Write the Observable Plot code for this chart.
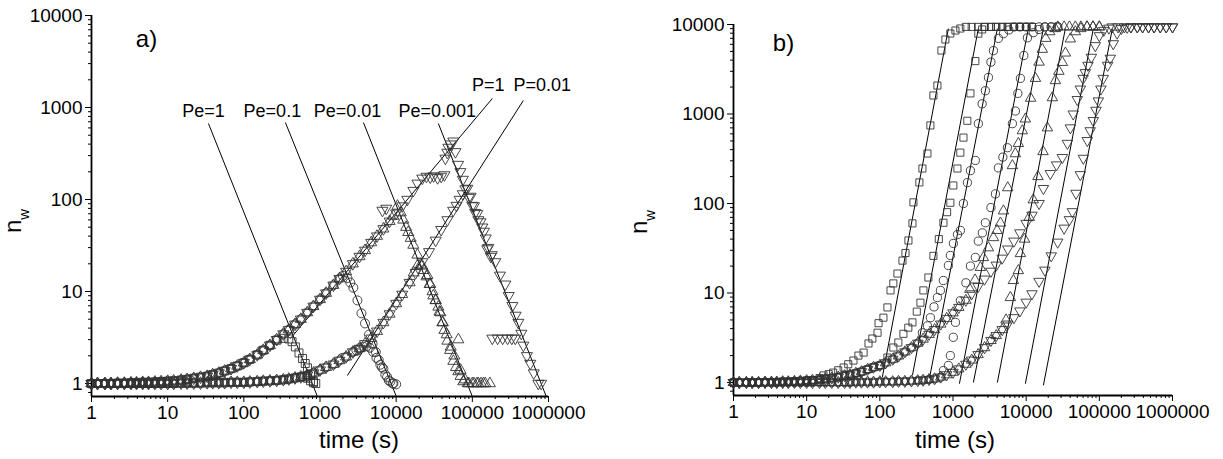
<!DOCTYPE html>
<html><head><meta charset="utf-8">
<script src="https://cdn.jsdelivr.net/npm/d3@7"></script>
<script src="https://cdn.jsdelivr.net/npm/@observablehq/plot@0.6"></script>
<style>
body{margin:0;background:#fff;}
#wrap{display:flex;width:1223px;height:459px;overflow:hidden;}
</style></head><body><div id="wrap"></div>
<script>
// ---------- shared time grid (s) ----------
const tGrid = [1,1.2,1.5,1.8,2.2,2.7,3.3,3.9,4.7,5.6,6.8,8.2,
 10,12,15,18,22,27,33,39,47,56,68,82,
 100,120,150,180,220,270,330,390,470,560,680,820,
 1000,1200,1500,1800,2200,2700,3300,3900,4700,5600,6800,8200,
 10000,12000,15000,18000,22000,27000,33000,39000,47000,56000,68000,82000,
 100000,120000,150000,180000,220000,270000,330000,390000,470000,560000,680000,820000,1000000];

// ---------- panel a ----------
const nBaseA1 = [1.0,1.0,1.0,1.0,1.01,1.01,1.02,1.02,1.03,1.03,1.04,1.05,
 1.06,1.07,1.09,1.11,1.14,1.17,1.2,1.25,1.3,1.37,1.45,1.55,
 1.68,1.83,2.05,2.3,2.6,3.0,3.45,3.85,4.4,5.0,5.9,6.9,
 8.2,9.6,11.7,13.8,16.5,20,24,28,34,40,48,58,
 71,85,105,126,153,188,228,270,325,385];
const nBaseA2 = [1,1,1,1,1,1,1,1,1,1,1,1,
 1,1,1.01,1.01,1.01,1.01,1.02,1.02,1.02,1.02,1.03,1.03,
 1.03,1.04,1.05,1.06,1.07,1.08,1.1,1.12,1.15,1.18,1.23,1.3,
 1.4,1.5,1.62,1.78,1.95,2.2,2.4,2.7,3.1,3.7,4.6,5.7,
 7.4,9.3,12.5,16,21,27,36,47,60,76,98];

const tailSqA1 = [[220,2.6],[270,2.95],[330,3.1],[390,3.05],[430,2.85],[475,2.5],[530,2.15],[590,1.87],[640,1.65],[685,1.48],[750,1.25],[820,1.05]];
const tailSqA2 = [[630,1.18],[685,1.14],[750,1.07],[820,1.02],[880,1.0]];
const tailCiA1 = [[2000,14.8],[2290,14.0],[2500,12.5],[2740,11],[3100,8],[3500,5.8],[3900,4.5],[4400,3.4],[4900,2.7],[5400,2.2],[5900,1.8],[6500,1.5],[7200,1.25],[8000,1.08],[9000,1.0],[10000,0.98]];
const tailCiA2 = [[3000,2.3],[3300,2.42],[3720,2.5],[4100,2.55],[4500,2.45],[5000,2.2],[5500,1.9],[6200,1.6],[6800,1.45],[7600,1.18],[8400,1.05],[9200,1.0]];
const tailTuA1 = [[9200,66],[10400,85],[11500,72],[12400,60],[13500,50],[14400,44],[15500,38],[16800,32],[19000,25],[22000,19],[25700,15],[28000,12],[30700,9],[33000,8],[35800,6.8],[38000,5.9],[40400,4.6],[43000,3.8],[47000,2.9],[51000,2.3],[56300,1.75],[61000,1.5],[65500,1.35],[70000,1.2],[76000,1.05],[87000,1.0],[100000,1.0],[115000,1.0],[130000,1.0],[148000,1.0]];
const tailTuA2 = [[17000,16],[19000,19],[21000,19.5],[23000,17],[25000,14.5],[27500,12],[30000,10],[33000,8],[37000,6],[41000,4.6],[46000,3.4],[52000,2.5],[58000,2.0],[65500,3.0],[70000,1.4],[80000,1.1],[90000,1.0],[105000,1.0],[120000,1.0],[140000,1.0],[170000,1.0]];
const tailTdA1 = [[6600,76],[7400,80],[14000,100],[16800,125],[19000,150],[22000,170],[25000,178],[28000,175],[31000,180],[35000,172],[39000,178],[43000,185],[44300,280],[47000,325],[48400,368],[52000,400],[56300,430],[60000,330],[65000,240],[69700,200],[75000,165],[81000,130],[90000,105],[100000,86],[109000,72],[120000,60],[135000,50],[150000,38],[162000,30],[180000,25],[200000,21],[230000,15],[271000,12],[300000,9],[335000,7],[370000,5.5],[402000,4.6],[440000,3.5],[467000,2.6],[520000,2.0],[577000,1.65],[640000,1.3],[735000,1.0],[800000,1.0]];
const tailTdA2 = [[62000,86],[68000,100],[75000,115],[86000,132],[95000,108],[105000,85],[116000,70],[128000,57],[142000,45],[157000,29],[175000,24],[183000,3.1],[215000,3.1],[250000,3.1],[290000,3.1],[330000,3.1],[366000,3.1]];

const lineNamesA = ["Pe=1","Pe=0.1","Pe=0.01","Pe=0.001","P=1","P=0.01"];
const lineT1A = [34.3, 351, 3715, 35800, 409, 2290];
const lineN1A = [670, 687, 687, 670, 3.08, 1.22];
const lineT2A = [925, 10060, 100000, 935000, 183000, 467000];
const lineN2A = [0.722, 0.722, 0.722, 0.722, 1253, 1190];
const labelTA = [29.5, 237, 2290, 34700, 162000, 830000];
const labelNA = [905, 905, 905, 905, 1735, 1735];

// ---------- panel b ----------
const nBaseB1 = [1,1,1,1,1,1.01,1.01,1.01,1.02,1.02,1.03,1.04,
 1.05,1.06,1.08,1.1,1.12,1.15,1.19,1.22,1.27,1.32,1.4,1.48,
 1.55,1.66,1.82,1.98,2.2,2.45,2.75,3.05,3.45,3.9,4.5,5.2,
 6.0,6.9,8.3,9.8,11.8,14.3,17.5,20.5,24.5,31,38,47,
 60,74,100];
const nBaseB2 = [1,1,1,1,1,1,1,1,1,1,1,1,
 1,1,1,1,1,1,1,1,1.01,1.01,1.01,1.01,
 1.02,1.02,1.02,1.03,1.03,1.04,1.05,1.06,1.08,1.1,1.15,1.22,
 1.3,1.42,1.6,1.78,2.05,2.45,2.95,3.35,3.9,4.5,5.3,6.3,
 7.9,9.8,13.5,18,26,37,53,66];
const plateauB = [[1500,9400],[1800,9400],[2200,9400],[2700,9400],[3300,9400],[3900,9400],[4700,9400],[5600,9400],[6800,9400],[8200,9400],[10000,9400],[12000,9400],[15000,9400],[18000,9400],[22000,9400],[27000,9400],[33000,9400],[39000,9400],[47000,9400],[56000,9400],[68000,9400],[82000,9400],[100000,9400],[120000,9400],[150000,9400],[180000,9400],[220000,9400],[270000,9400],[330000,9400],[390000,9400],[470000,9400],[560000,9400],[680000,9400],[820000,9400],[1000000,9400]];

const tailS1 = [[15,1.12],[17,1.2],[20,1.24],[23,1.29],[27,1.37],[32,1.47],[37,1.6],[43.6,1.76],[51,2.0],[60,2.16],[70,2.73],[79,3.1],[93,3.6],[96,4.6],[112,5.3],[127,6.9],[140,10.7],[153,12.8],[174,16.5],[204,23],[224,28],[246,38.6],[279,60],[288,103],[347,172],[382,246],[447,362],[491,745],[540,1610],[612,2080],[695,5120],[787,6800],[920,7930],[1080,8570],[1260,9020]];
const tailS2 = [[127,1.9],[153,2.46],[179,2.8],[210,3.5],[245,4.1],[279,4.7],[320,6.2],[359,7.8],[394,10.7],[461,14.9],[540,26],[640,40],[740,61],[830,80],[920,102],[1010,159],[1150,246],[1260,370],[1390,545],[1570,840],[1730,1700],[2020,3900],[2220,7900],[2500,8800]];
const tailC1 = [[382,3.6],[447,4.3],[491,5.3],[550,7],[612,8.9],[673,10.7],[739,13.8],[865,20.3],[921,26.3],[1012,35.8],[1150,45],[1262,50],[1387,100],[1573,171],[1730,233],[2020,303],[2220,780],[2500,1300],[2770,1820],[3050,2560],[3300,3800],[3570,5100],[4170,7000],[4890,7900],[5800,8700]];
const tailC2 = [[740,1.36],[865,1.55],[920,2.0],[1010,3.2],[1080,4.7],[1260,8.2],[1500,13],[1730,20],[2020,25],[2220,38],[2520,47],[2770,61],[3300,90],[3800,128],[4170,250],[4800,330],[5540,420],[6480,780],[7120,1080],[7700,1700],[8340,2500],[9300,4500],[10400,7100],[12500,8100],[15000,8800]];
const tailT1 = [[1700,11],[2000,14],[2370,19.3],[2600,24.9],[3050,32],[3570,41.6],[4000,50],[4450,60.5],[4890,82.7],[5600,150],[6480,265],[7100,360],[7820,468],[8870,650],[9750,880],[11500,1500],[13400,2500],[15000,3800],[16600,5280],[18500,7000],[21000,8300],[25000,9000]];
const tailT2 = [[5300,5],[6080,8.9],[6690,13.8],[7820,17.8],[8340,27.6],[9500,40],[11000,70],[12500,110],[14500,200],[17000,380],[19500,700],[22800,1520],[25100,2360],[28000,3000],[31200,3770],[34400,4800],[40200,6900],[47000,8300],[56000,9000]];
const tailD1 = [[17200,147],[21400,216],[26000,270],[31200,326],[36600,470],[40200,700],[44000,1000],[50000,1450],[55000,1900],[60000,2500],[64400,2900],[70000,3500],[77800,4300],[88000,5800],[100000,7500],[115000,8600],[135000,9100]];
const tailD2 = [[42800,81],[48000,130],[55000,210],[60400,320],[68500,505],[75000,650],[82800,845],[90000,1100],[96900,1400],[105000,1900],[113000,2500],[130000,3500],[141000,4200],[155000,6100],[175000,8000],[200000,9000],[240000,9300]];

const lineT1B = [108, 279, 476, 1223, 1900, 4040, 9750, 17200];
const lineN1B = [1.14, 1.2, 1.11, 0.97, 1.0, 1.0, 0.97, 0.93];
const lineT2B = [865, 2220, 4040, 10700, 17200, 34300, 82800, 150600];
const lineN2B = [9000, 9000, 9000, 9000, 9000, 9000, 9000, 9000];

// ---------- ticks ----------
const majorX = [1,10,100,1000,10000,100000,1000000];
const majorY = [1,10,100,1000,10000];
const decades = [0.1,1,10,100,1000,10000,100000];
const mult = [2,3,4,5,6,7,8,9];

// ---------- helpers ----------
const FONT = "'Liberation Sans', Arial, Helvetica, sans-serif";
const fromBase = (base, tMax) => base.map((n,i) => [tGrid[i], n]).filter(d => d[0] <= tMax);
const plat = (t0, t1) => plateauB.filter(d => d[0] > t0 && d[0] <= t1);
const triDown = {
  draw(context, size) {
    const y = -Math.sqrt(size / (Math.sqrt(3) * 3));
    context.moveTo(0, -y * 2);
    context.lineTo(-Math.sqrt(3) * y, y);
    context.lineTo(Math.sqrt(3) * y, y);
    context.closePath();
  }
};
const dots = (pts, symbol, r) => Plot.dot(pts, {x: d => d[0], y: d => d[1], symbol, r, stroke: "#333", fill: "none", strokeWidth: 0.9});

function axes(yMin) {
  const minorX = decades.slice(1, 7).flatMap(d => mult.map(m => m * d));
  const minorY = decades.flatMap(d => mult.map(m => m * d)).filter(v => v > yMin && v < 10000);
  return [
    Plot.axisX({ticks: majorX, tickFormat: d => String(d), tickSize: 6, tickPadding: 3, fontSize: 19, label: null}),
    Plot.axisX({ticks: minorX, tickFormat: () => "", tickSize: 3, label: null}),
    Plot.axisY({ticks: majorY, tickFormat: d => String(d), tickSize: 6, tickPadding: 3, fontSize: 19, label: null}),
    Plot.axisY({ticks: minorY, tickFormat: () => "", tickSize: 3, label: null}),
    Plot.ruleX([1], {strokeWidth: 1.8}),
    Plot.ruleY([yMin], {strokeWidth: 1.8})
  ];
}
function addNw(svg, x, y) {
  const t = d3.select(svg).append("text")
    .attr("transform", `translate(${x},${y}) rotate(-90)`)
    .attr("font-family", FONT).attr("fill", "black");
  t.append("tspan").attr("font-size", 24).text("n");
  t.append("tspan").attr("font-size", 15).attr("dy", 8).text("w");
}

// ---------- panel a ----------
const yMinA = 0.7224;
const idxA = d3.range(lineNamesA.length);
const svgA = Plot.plot({
  width: 612, height: 459,
  marginLeft: 91, marginRight: 64, marginTop: 15, marginBottom: 63,
  x: {type: "log", domain: [1, 1e6], label: null},
  y: {type: "log", domain: [yMinA, 10000], label: null},
  style: {fontFamily: FONT, background: "white", color: "black", overflow: "visible"},
  marks: [
    ...axes(yMinA),
    Plot.link(idxA, {x1: i => lineT1A[i], y1: i => lineN1A[i], x2: i => lineT2A[i], y2: i => lineN2A[i], stroke: "black", strokeWidth: 1}),
    dots(fromBase(nBaseA2, 56000).concat(tailTdA2), triDown, 4.1),
    dots(fromBase(nBaseA1, 12000).concat(tailTdA1), triDown, 4.1),
    dots(fromBase(nBaseA2, 15000).concat(tailTuA2), "triangle", 4.1),
    dots(fromBase(nBaseA1, 8200).concat(tailTuA1), "triangle", 4.1),
    dots(fromBase(nBaseA2, 2700).concat(tailCiA2), "circle", 4.5),
    dots(fromBase(nBaseA1, 1800).concat(tailCiA1), "circle", 4.5),
    dots(fromBase(nBaseA2, 560).concat(tailSqA2), "square", 4.5),
    dots(fromBase(nBaseA1, 180).concat(tailSqA1), "square", 4.5),
    Plot.text(idxA, {x: i => labelTA[i], y: i => labelNA[i], text: i => lineNamesA[i], fontSize: 18, textAnchor: "middle", lineAnchor: "middle", fill: "black"}),
    Plot.text(["a)"], {frameAnchor: "top-left", dx: 55, dy: 24, fontSize: 24, textAnchor: "middle", lineAnchor: "middle", fill: "black"}),
    Plot.text(["time (s)"], {frameAnchor: "bottom", dx: 39, dy: 44, fontSize: 24, lineAnchor: "middle", fill: "black"})
  ]
});
addNw(svgA, 21, 221);

// ---------- panel b ----------
const yMinB = 0.716;
const idxB = d3.range(lineT1B.length);
const svgB = Plot.plot({
  width: 611, height: 459,
  marginLeft: 121, marginRight: 51, marginTop: 24, marginBottom: 64,
  x: {type: "log", domain: [1, 1e6], label: null},
  y: {type: "log", domain: [yMinB, 10000], label: null},
  style: {fontFamily: FONT, background: "white", color: "black", overflow: "visible"},
  marks: [
    ...axes(yMinB),
    Plot.link(idxB, {x1: i => lineT1B[i], y1: i => lineN1B[i], x2: i => lineT2B[i], y2: i => lineN2B[i], stroke: "black", strokeWidth: 1}),
    dots(fromBase(nBaseB2, 39000).concat(tailD2, plat(240000, 1e6)), triDown, 3.9),
    dots(fromBase(nBaseB1, 15000).concat(tailD1, plat(135000, 1e6)), triDown, 3.9),
    dots(fromBase(nBaseB2, 4700).concat(tailT2, plat(56000, 100000)), "triangle", 3.9),
    dots(fromBase(nBaseB1, 1500).concat(tailT1, plat(25000, 100000)), "triangle", 3.9),
    dots(fromBase(nBaseB2, 680).concat(tailC2, plat(15000, 30000)), "circle", 4.1),
    dots(fromBase(nBaseB1, 330).concat(tailC1, plat(5800, 30000)), "circle", 4.1),
    dots(fromBase(nBaseB1, 100).concat(tailS2, plat(2500, 12000)), "square", 4),
    dots(fromBase(nBaseB1, 12).concat(tailS1, plat(1260, 12000)), "square", 4),
    Plot.text(["b)"], {frameAnchor: "top-left", dx: 50, dy: 19, fontSize: 24, textAnchor: "middle", lineAnchor: "middle", fill: "black"}),
    Plot.text(["time (s)"], {frameAnchor: "bottom", dx: 2, dy: 45, fontSize: 24, lineAnchor: "middle", fill: "black"})
  ]
});
addNw(svgB, 35, 222);

document.getElementById("wrap").append(svgA, svgB);
</script></body></html>
